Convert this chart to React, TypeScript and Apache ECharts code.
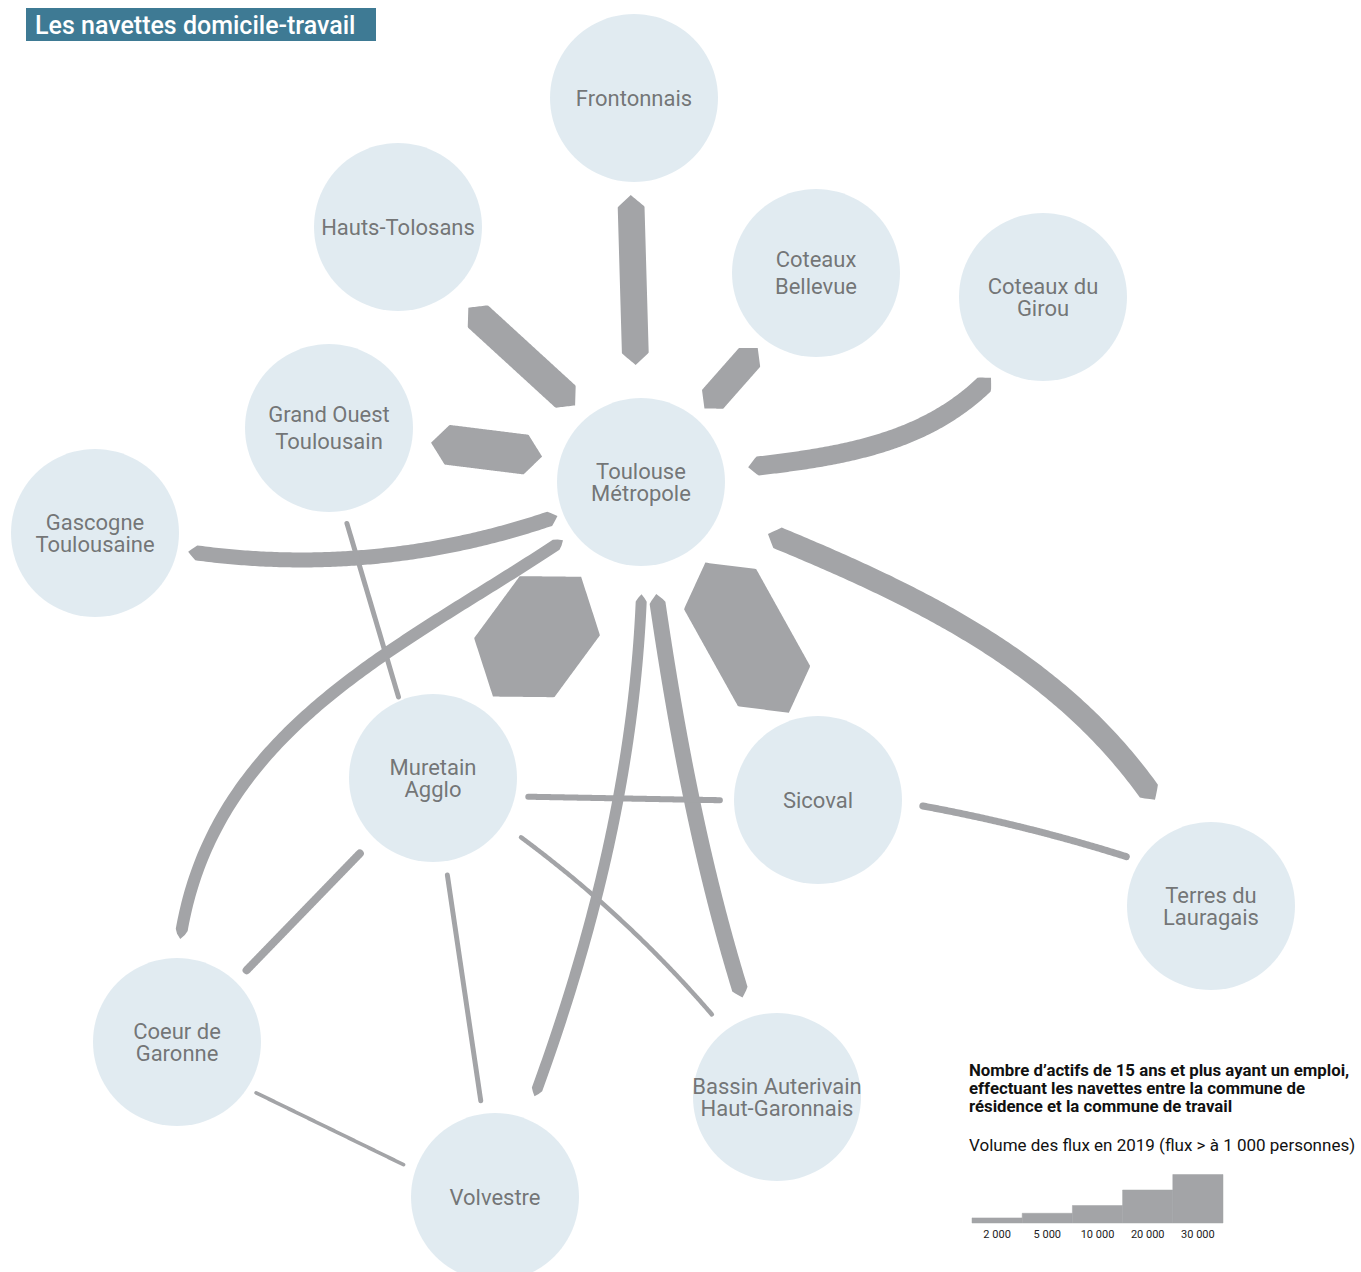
import React, { useEffect, useRef } from "react";
import * as echarts from "echarts";

// ---------- data ----------
const nodeNames = [
  "Frontonnais",
  "Hauts-Tolosans",
  "Coteaux\nBellevue",
  "Coteaux du\nGirou",
  "Grand Ouest\nToulousain",
  "Toulouse\nMétropole",
  "Gascogne\nToulousaine",
  "Muretain\nAgglo",
  "Sicoval",
  "Terres du\nLauragais",
  "Coeur de\nGaronne",
  "Bassin Auterivain\nHaut-Garonnais",
  "Volvestre",
];
// node layout (diagram positions)
const nodeX = [634, 398, 816, 1043, 329, 641, 95, 433, 818, 1211, 177, 777, 495];
const nodeY = [98, 227, 273, 297, 428, 482, 533, 778, 800, 906, 1042, 1097, 1197];

// flows (both directions, persons)
const flowFrom = [1, 0, 2, 3, 4, 6, 4, 5, 5, 5, 5, 5, 5, 7, 7, 7, 7, 8, 10];
const flowTo = [5, 5, 5, 5, 5, 5, 7, 10, 7, 8, 12, 11, 9, 8, 10, 12, 11, 9, 12];
const flowVolumes = [
  18000, 16000, 17000, 11000, 24500, 8400, 1900, 6500, 63000, 52000, 5800, 9000,
  13000, 2600, 3900, 1900, 1600, 3200, 1100,
];

// flow drawing layout: cubic control points [along1, offset1, along2, offset2] (fractions of length)
const S3 = 1 / 3, S6 = 2 / 3;
const flowBend = [
  [S3, 0, S6, 0], [S3, 0, S6, 0], [S3, 0, S6, 0], [S3, -0.3, S6, -0.08],
  [S3, 0, S6, 0], [S3, 0.12, S6, 0.12], [S3, 0, S6, 0], [S3, 0.059, S6, 0.321],
  [S3, 0, S6, 0], [S3, 0, S6, 0], [S3, -0.085, S6, -0.065], [S3, 0.03, S6, 0.05],
  [S3, -0.082, S6, -0.207], [S3, 0, S6, 0], [S3, 0, S6, 0], [S3, 0, S6, 0],
  [S3, -0.067, S6, -0.067], [S3, -0.04, S6, -0.04], [S3, 0, S6, 0],
];
// lateral shift of each end [start, end]
const flowShift = [
  [12, -12], [6, 2], [-6, 1], [0, 0], [2, -13], [0, 0], [10, 10], [0, 0],
  [-8, 0], [-17, -17], [0, 0], [0, 0], [0, 0], [17, 2], [0, 0], [0, 0],
  [0, 0], [-10, -19], [11, 11],
];
// distance kept from each circle [start, end]
const flowGaps = [
  [23, 17], [13, 33], [11, 13], [12, 24], [19, 18], [11, 6], [13, 4], [13, 19],
  [28, 17], [19, 8], [28, 24], [29, 21], [53, 36], [13, 14], [21, 16], [14, 13],
  [22, 21], [21, 14], [10, 13],
];

const legendValues = [2000, 5000, 10000, 20000, 30000];
const legendLabels = ["2 000", "5 000", "10 000", "20 000", "30 000"];

// ---------- styles ----------
const R = 84;
const FLOW_COLOR = "#a3a4a7";
const NODE_COLOR = "#d9e6ed";
const FONT = "Roboto, 'Noto Sans', sans-serif";
const flowWidth = (v: number) => 2 + 0.00155 * v;

function renderFlow(params: any, api: any) {
  const i = params.dataIndex;
  const a = api.coord([nodeX[flowFrom[i]], nodeY[flowFrom[i]]]);
  const b = api.coord([nodeX[flowTo[i]], nodeY[flowTo[i]]]);
  const L0 = Math.hypot(b[0] - a[0], b[1] - a[1]);
  const n0x = -(b[1] - a[1]) / L0, n0y = (b[0] - a[0]) / L0;
  const [shA, shB] = flowShift[i];
  const A = [a[0] + n0x * shA, a[1] + n0y * shA];
  const B = [b[0] + n0x * shB, b[1] + n0y * shB];
  const L = Math.hypot(B[0] - A[0], B[1] - A[1]);
  const ux = (B[0] - A[0]) / L, uy = (B[1] - A[1]) / L, nx = -uy, ny = ux;
  const [s1, h1, s2, h2] = flowBend[i];
  const C1 = [A[0] + ux * s1 * L + nx * h1 * L, A[1] + uy * s1 * L + ny * h1 * L];
  const C2 = [A[0] + ux * s2 * L + nx * h2 * L, A[1] + uy * s2 * L + ny * h2 * L];
  const P = (t: number) => {
    const m = 1 - t;
    const k0 = m * m * m, k1 = 3 * m * m * t, k2 = 3 * m * t * t, k3 = t * t * t;
    return [
      k0 * A[0] + k1 * C1[0] + k2 * C2[0] + k3 * B[0],
      k0 * A[1] + k1 * C1[1] + k2 * C2[1] + k3 * B[1],
    ];
  };
  const M = 2000;
  let t0 = 0, t1 = 1;
  for (let k = 0; k <= M; k++) {
    const t = k / M;
    const p = P(t);
    if (Math.hypot(p[0] - a[0], p[1] - a[1]) >= R + flowGaps[i][0]) { t0 = t; break; }
  }
  for (let k = M; k >= 0; k--) {
    const t = k / M;
    const p = P(t);
    if (Math.hypot(p[0] - b[0], p[1] - b[1]) >= R + flowGaps[i][1]) { t1 = t; break; }
  }
  const N = 140;
  const pts: number[][] = [];
  const cum: number[] = [0];
  for (let k = 0; k <= N; k++) {
    const t = t0 + ((t1 - t0) * k) / N;
    pts.push(P(t));
    if (k > 0) cum.push(cum[k - 1] + Math.hypot(pts[k][0] - pts[k - 1][0], pts[k][1] - pts[k - 1][1]));
  }
  const S = cum[N];
  const w = flowWidth(api.value(2));
  if (w < 9) {
    return {
      type: "polyline",
      shape: { points: pts },
      style: { stroke: FLOW_COLOR, lineWidth: w, fill: null, lineCap: "round", lineJoin: "round" },
    };
  }
  const tip = 0.33 * w + 3;
  const left: number[][] = [];
  const right: number[][] = [];
  for (let k = 0; k <= N; k++) {
    const p0 = pts[Math.max(0, k - 1)], p1 = pts[Math.min(N, k + 1)];
    const tl = Math.hypot(p1[0] - p0[0], p1[1] - p0[1]) || 1;
    const tx = (p1[0] - p0[0]) / tl, ty = (p1[1] - p0[1]) / tl;
    const hw = (w / 2) * Math.max(0, Math.min(1, cum[k] / tip, (S - cum[k]) / tip));
    left.push([pts[k][0] - ty * hw, pts[k][1] + tx * hw]);
    right.push([pts[k][0] + ty * hw, pts[k][1] - tx * hw]);
  }
  return {
    type: "polygon",
    shape: { points: left.concat(right.reverse()) },
    style: { fill: FLOW_COLOR },
  };
}

function renderLegend(params: any, api: any) {
  const base = api.coord([api.value(0), 0]);
  const bw = api.size([1, 0])[0];
  const h = flowWidth(api.value(1));
  return {
    type: "rect",
    shape: { x: base[0] - bw / 2, y: base[1] - h, width: bw, height: h },
    style: { fill: FLOW_COLOR, stroke: FLOW_COLOR, lineWidth: 0.5 },
  };
}

export default function App() {
  const ref = useRef<HTMLDivElement>(null);
  useEffect(() => {
    if (!ref.current) return;
    const chart = echarts.init(ref.current, null, { renderer: "svg" });
    const lineHeights = nodeNames.map((n) =>
      n.startsWith("Grand Ouest") || n.startsWith("Coteaux\n") ? 27 : 22
    );
    chart.setOption({
      animation: false,
      backgroundColor: "#ffffff",
      grid: [
        { left: 0, top: 0, width: 1361, height: 1272 },
        { left: 972, top: 1175, width: 251, height: 48 },
      ],
      xAxis: [
        { type: "value", min: 0, max: 1361, show: false, gridIndex: 0 },
        {
          type: "category",
          gridIndex: 1,
          data: legendLabels,
          axisLine: { show: false },
          axisTick: { show: false },
          splitLine: { show: false },
          axisLabel: { fontSize: 11, color: "#222", margin: 6, fontFamily: FONT },
        },
      ],
      yAxis: [
        { type: "value", min: 0, max: 1272, inverse: true, show: false, gridIndex: 0 },
        { type: "value", min: 0, max: 48, show: false, gridIndex: 1 },
      ],
      graphic: [
        { type: "rect", shape: { x: 26, y: 8, width: 350, height: 33 }, style: { fill: "#3e7a94" } },
        {
          type: "text",
          x: 35,
          y: 25,
          style: {
            text: "Les navettes domicile-travail",
            fill: "#ffffff",
            fontFamily: FONT,
            fontWeight: 500,
            fontSize: 25,
            verticalAlign: "middle",
          },
        },
        {
          type: "text",
          x: 969,
          y: 1061,
          style: {
            text:
              "Nombre d’actifs de 15 ans et plus ayant un emploi,\neffectuant les navettes entre la commune de\nrésidence et la commune de travail",
            fill: "#111111",
            fontFamily: FONT,
            fontWeight: "bold",
            fontSize: 16.8,
            lineHeight: 18,
            verticalAlign: "top",
          },
        },
        {
          type: "text",
          x: 969,
          y: 1145,
          style: {
            text: "Volume des flux en 2019 (flux > à 1 000 personnes)",
            fill: "#111111",
            fontFamily: FONT,
            fontSize: 17,
            verticalAlign: "middle",
          },
        },
      ],
      series: [
        {
          type: "custom",
          name: "flux",
          coordinateSystem: "cartesian2d",
          xAxisIndex: 0,
          yAxisIndex: 0,
          renderItem: renderFlow,
          data: flowVolumes.map((v, i) => [nodeX[flowFrom[i]], nodeY[flowFrom[i]], v]),
          silent: true,
          z: 1,
        },
        {
          type: "scatter",
          name: "territoires",
          xAxisIndex: 0,
          yAxisIndex: 0,
          symbol: "circle",
          symbolSize: R * 2,
          itemStyle: { color: NODE_COLOR },
          silent: true,
          z: 2,
          label: {
            show: true,
            position: "inside",
            fontFamily: FONT,
            fontSize: 22,
            color: "#565656",
            formatter: (p: any) => nodeNames[p.dataIndex],
          },
          data: nodeNames.map((n, i) => ({
            value: [nodeX[i], nodeY[i]],
            label: { lineHeight: lineHeights[i] },
          })),
        },
        {
          type: "custom",
          name: "légende",
          coordinateSystem: "cartesian2d",
          xAxisIndex: 1,
          yAxisIndex: 1,
          renderItem: renderLegend,
          data: legendValues.map((v, i) => [i, v]),
          silent: true,
        },
      ],
    });
    return () => chart.dispose();
  }, []);
  return (
    <div
      ref={ref}
      style={{ position: "absolute", left: 0, top: 0, width: 1361, height: 1272 }}
    />
  );
}
